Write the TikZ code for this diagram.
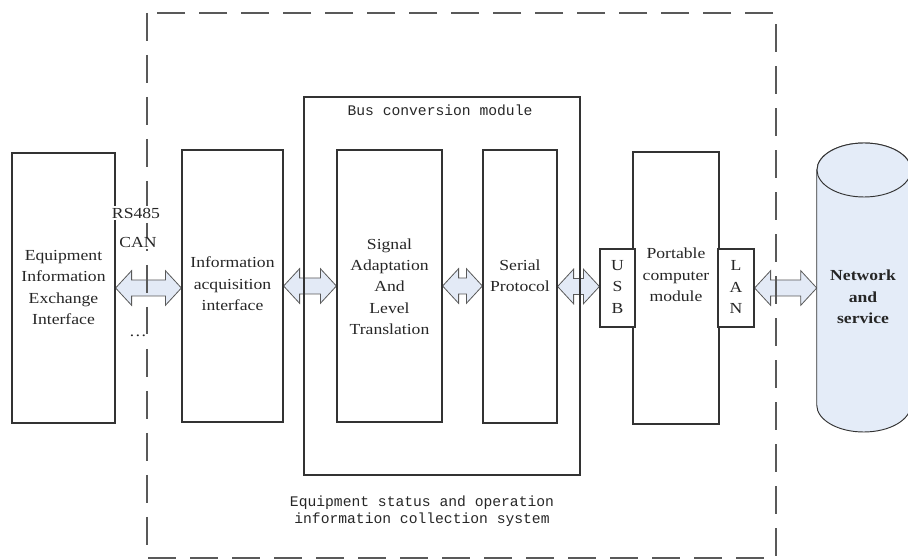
\documentclass[tikz,border=0pt]{standalone}
\usepackage{fontspec}
\setmainfont{Liberation Serif}[FakeStretch=1.15]
\setmonofont{Liberation Mono}
\usetikzlibrary{positioning,calc,backgrounds}

\definecolor{arrowblue}{RGB}{227,234,246}
\definecolor{cylblue}{RGB}{228,236,248}

\begin{document}
\begin{tikzpicture}
  [x=0.75pt,y=-0.75pt,
   every node/.style={inner sep=0pt,text=black!85},
   box/.style={draw=black!80,line width=0.9pt,rectangle,fill=white},
   lbl/.style={align=center,font=\fontsize{11.5}{16}\selectfont},
   monolbl/.style={align=center,font=\ttfamily\fontsize{11}{12.75}\selectfont},
   blockarrow/.style={draw=black!65,fill=arrowblue,line width=0.6pt,
     to path={let \p1=(\tikztostart), \p2=(\tikztotarget) in
       (\p1) -- (\x1+12pt,\y1+13pt) -- (\x1+12pt,\y1+6pt)
       -- (\x2-12pt,\y1+6pt) -- (\x2-12pt,\y1+13pt) -- (\x2,\y1)
       -- (\x2-12pt,\y1-13pt) -- (\x2-12pt,\y1-6pt)
       -- (\x1+12pt,\y1-6pt) -- (\x1+12pt,\y1-13pt) -- cycle}}]
  \useasboundingbox (0,0) rectangle (908,559);

  % system boundary
  \draw[black!65,line width=1.1pt,dash pattern=on 21pt off 10.5pt] (147,13) rectangle (776,558);

  \node[box,minimum width=77.25pt,minimum height=202.5pt] (eqp) at (63.5,288) {};
  \node[box,minimum width=75.75pt,minimum height=204pt] (acq) at (232.5,286) {};
  \node[box,fill=none,minimum width=207pt,minimum height=283.5pt] (bus) at (442,286) {};
  \node[box,minimum width=78.75pt,minimum height=204pt] (sig) at (389.5,286) {};
  \node[box,minimum width=55.5pt,minimum height=204.75pt] (ser) at (520,286.5) {};
  \node[box,minimum width=64.5pt,minimum height=204pt] (pc) at (676,288) {};
  \node[box,minimum width=26.25pt,minimum height=58.5pt] (usb) at (617.5,288) {};
  \node[box,minimum width=27pt,minimum height=58.5pt] (lan) at (736,288) {};

  % network cylinder
  \node[minimum width=70.5pt,minimum height=216.75pt] (net) at (864,287.5) {};
  \draw[draw=black!80,line width=0.7pt,fill=cylblue] (net.west |- 0,170) -- (net.west |- 0,405)
    arc[start angle=180,end angle=0,x radius=47,y radius=27] -- (911,170)
    arc[start angle=0,end angle=-180,x radius=47,y radius=27] -- cycle;
  \draw[draw=black!80,line width=0.7pt,fill=cylblue] (864,170) ellipse (47 and 27);

  \node[lbl] (eqplbl) at (63.5,287.5) {Equipment\\Information\\Exchange\\Interface};
  \node[lbl] (acqlbl) at (232.5,284) {Information\\acquisition\\interface};
  \node[lbl] (siglbl) at (389.5,286.5) {Signal\\Adaptation\\And\\Level\\Translation};
  \node[lbl] (serlbl) at (520,276) {Serial\\Protocol};
  \node[lbl] (pclbl) at (676,275) {Portable\\computer\\module};
  \node[lbl] (usblbl) at (617.5,287) {U\\S\\B};
  \node[lbl] (lanlbl) at (736,287) {L\\A\\N};
  \node[lbl,font=\bfseries\fontsize{11.5}{16}\selectfont] (netlbl) at (863,297) {Network\\and\\service};

  \node[lbl,fill=white,inner sep=1pt] (rs) at (136,213) {RS485};
  \node[lbl,fill=white,inner sep=1pt] (can) at (138,243) {CAN};
  \node[lbl,fill=white,inner sep=1pt] (more) at (138,336) {\dots};

  \node[monolbl] (bustitle) at (440,110) {Bus conversion module};
  \node[monolbl] (syslbl) at (422,511.5) {Equipment status and operation\\information collection system};

  \begin{scope}[on background layer]
    \draw[blockarrow] (eqp.east) to (acq.west);
    \draw[blockarrow] (acq.east) to (sig.west);
    \draw[blockarrow] (sig.east) to (ser.west);
    \draw[blockarrow] (ser.east) to (usb.west);
    \draw[blockarrow] (lan.east) to (net.west);
  \end{scope}
\end{tikzpicture}
\end{document}
